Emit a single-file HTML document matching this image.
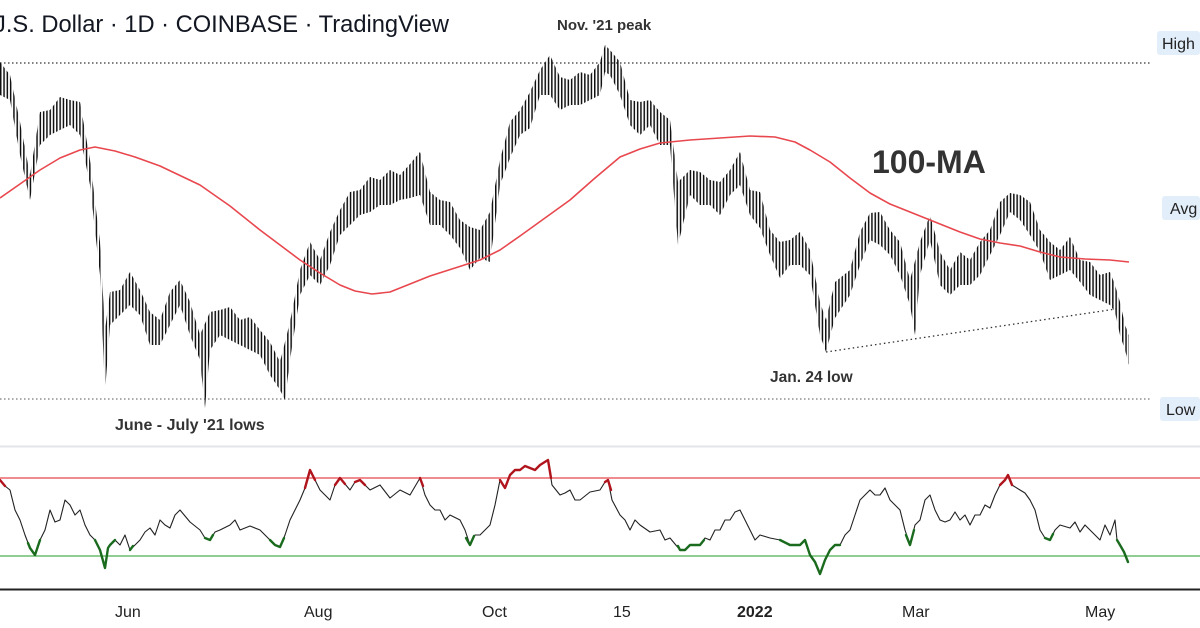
<!DOCTYPE html>
<html><head><meta charset="utf-8"><style>
html,body{margin:0;padding:0;background:#fff;}
svg{display:block;font-family:"Liberation Sans",sans-serif;}
</style></head><body>
<svg width="1200" height="628" viewBox="0 0 1200 628" xmlns="http://www.w3.org/2000/svg">
<defs>
<pattern id="vb" patternUnits="userSpaceOnUse" x="0" y="0" width="3.3" height="10">
<rect x="0" y="0" width="1.5" height="10" fill="#111"/>
</pattern>
</defs>
<rect width="1200" height="628" fill="#fff"/>
<text x="-6" y="32" font-size="23.7" fill="#131722">J.S. Dollar · 1D · COINBASE · TradingView</text>
<line x1="0" y1="63" x2="1150" y2="63" stroke="#333" stroke-width="1.2" stroke-dasharray="1.5,2.5"/>
<line x1="0" y1="399" x2="1150" y2="399" stroke="#555" stroke-width="1" stroke-dasharray="1.5,2.5"/>
<line x1="826" y1="352" x2="1116" y2="309" stroke="#333" stroke-width="1.3" stroke-dasharray="1.5,3"/>
<rect x="1157" y="31" width="43" height="24" rx="3" fill="#e3eefb"/>
<text x="1162" y="49" font-size="16" fill="#222">High</text>
<rect x="1162" y="196" width="38" height="24" rx="3" fill="#e3eefb"/>
<text x="1170" y="214" font-size="16" fill="#222">Avg</text>
<rect x="1160" y="397" width="40" height="24" rx="3" fill="#e3eefb"/>
<text x="1166" y="415" font-size="16" fill="#222">Low</text>

<polygon fill="url(#vb)" points="
0,62 10,75 20,122 30,175 40,112 50,110 60,97 70,100 80,102 90,160 100,242 105,330 110,292 120,290 130,272 140,290 150,312 160,320 170,292 180,280 190,302 200,335 210,312 220,310 230,307 240,320 250,317 260,330 270,342 280,362 290,322 300,270 310,242 320,260 330,232 340,210 350,192 360,190 370,177 380,180 390,170 400,175 410,164 420,152 430,192 440,200 450,202 460,220 470,227 480,230 490,212 500,160 510,122 520,110 530,92 540,70 550,55 560,77 570,80 580,72 590,75 600,62 605,45 610,50 620,62 630,100 640,102 650,100 660,112 670,120 678,182 690,170 700,172 710,180 720,182 730,170 740,152 750,190 760,192 770,230 780,242 790,240 800,232 810,250 820,302 826,320 835,282 850,270 860,232 870,213 880,212 890,230 900,242 910,280 920,242 930,215 940,252 950,270 960,252 970,260 980,242 990,230 1000,202 1010,193 1020,195 1030,202 1040,230 1050,242 1060,250 1070,237 1080,260 1090,262 1100,275 1110,272 1115,285 1120,302 1125,325 1129,335
1129,365 1125,350 1120,335 1115,312 1110,305 1100,300 1090,295 1080,282 1070,270 1060,275 1050,280 1040,252 1030,235 1020,220 1010,212 1000,235 990,255 980,275 970,285 960,285 950,295 940,285 930,240 920,275 915,335 910,305 900,275 890,255 880,245 870,240 860,265 850,295 835,318 826,352 820,335 810,275 800,265 790,265 780,278 770,255 760,228 750,215 740,185 730,195 720,215 710,205 700,205 690,195 678,245 670,145 660,145 650,125 640,135 630,125 620,95 610,75 605,72 600,95 590,100 580,105 570,105 560,110 550,95 540,95 530,128 520,135 510,158 500,185 490,262 480,258 470,270 460,248 450,235 440,225 430,225 420,195 410,198 400,200 390,205 380,205 370,212 360,215 350,225 340,235 330,265 320,285 310,275 300,295 290,360 285,400 280,390 270,375 260,355 250,350 240,345 230,340 220,335 210,350 205,408 200,360 190,335 180,305 170,325 160,345 150,345 140,315 130,305 120,315 110,325 105,392 100,275 90,185 80,135 70,125 60,130 50,135 40,145 30,200 20,155 10,100 0,95"/>

<polyline fill="none" stroke="#e8474e" stroke-width="1.6" stroke-linejoin="round" points="0,198 20,184 40,170 60,158 80,150 95,147 115,151 135,157 160,166 200,185 230,206 260,230 300,260 320,273 340,285 355,291 372,294 390,292 410,284 430,276 455,268 480,260 500,250 520,236 545,218 570,200 595,178 620,157 640,149 660,143 690,140 720,138 750,136 775,137 795,142 810,150 830,162 850,178 870,193 890,204 930,220 960,232 980,239 1000,243 1020,246 1040,252 1060,257 1085,259 1110,260 1129,262"/>

<text x="557" y="30" font-size="15" font-weight="bold" fill="#333">Nov. '21 peak</text>
<text x="115" y="430" font-size="16" font-weight="bold" fill="#333">June - July '21 lows</text>
<text x="770" y="382" font-size="15.5" font-weight="bold" fill="#333">Jan. 24 low</text>
<text x="872" y="173" font-size="32" font-weight="bold" fill="#333">100-MA</text>

<line x1="0" y1="446.5" x2="1200" y2="446.5" stroke="#e3e5ea" stroke-width="2"/>
<line x1="0" y1="478" x2="1200" y2="478" stroke="#e8474e" stroke-width="1.3"/>
<line x1="0" y1="556" x2="1200" y2="556" stroke="#4caf50" stroke-width="1.3"/>

<polyline fill="none" stroke="#222" stroke-width="1.1" stroke-linejoin="round" points="0,480 5,486 10,490 15,510 20,520 25,535 30,548 35,555 40,540 45,530 50,510 55,522 60,520 65,500 70,505 75,515 80,510 85,525 90,535 95,540 100,550 105,568 108,548 110,545 115,540 120,545 125,535 130,550 135,545 140,540 145,532 150,528 155,535 160,520 165,525 170,528 175,515 180,510 190,522 200,530 205,538 210,540 215,532 220,530 230,525 235,520 240,530 250,526 260,530 265,535 270,540 275,545 280,547 285,535 290,520 295,510 300,500 305,488 310,470 315,480 320,490 325,495 330,500 335,485 340,478 345,484 350,490 355,482 360,480 370,490 380,485 390,498 400,490 410,495 420,478 425,495 430,505 435,510 440,510 445,520 450,515 460,520 465,530 470,545 475,535 480,535 485,530 490,525 495,505 500,480 505,488 510,475 515,470 520,470 525,466 530,468 535,470 540,465 548,460 552,485 560,495 565,493 570,490 575,500 580,500 590,492 600,490 605,482 608,480 612,500 620,515 625,520 630,530 635,520 640,525 650,532 660,530 665,540 670,538 680,550 685,550 690,545 700,545 705,538 710,540 715,530 720,530 725,520 730,520 735,512 740,510 745,520 750,530 755,540 760,535 770,538 780,540 790,545 800,545 805,540 810,555 815,562 820,574 825,560 830,550 835,545 840,545 845,535 850,530 855,515 860,500 865,495 870,490 875,495 880,495 885,488 890,500 895,505 900,510 905,530 910,545 915,525 920,520 925,500 930,495 935,510 940,520 945,522 950,520 955,512 960,520 965,515 970,525 975,515 980,515 985,505 990,508 995,495 1000,485 1005,480 1008,475 1012,485 1020,490 1025,493 1030,500 1035,510 1040,530 1045,538 1050,540 1055,530 1060,525 1070,528 1075,522 1080,532 1085,525 1090,530 1095,535 1100,540 1105,525 1110,535 1115,520 1117,540 1120,545 1124,552 1128,562"/>
<g fill="none" stroke="#b0141c" stroke-width="2.4" stroke-linejoin="round" stroke-linecap="round">
<polyline points="0,480 5,486"/>
<polyline points="305,488 310,470 315,480"/>
<polyline points="335,485 340,478 345,484"/>
<polyline points="355,482 360,480 365,485"/>
<polyline points="420,478 423,486"/>
<polyline points="500,480 505,488 510,475 515,470 520,470 525,466 530,468 535,470 540,465 548,460 551,478"/>
<polyline points="605,482 608,480 611,490"/>
<polyline points="1000,485 1005,480 1008,475 1012,485"/>
</g>
<g fill="none" stroke="#1b6b1f" stroke-width="2.4" stroke-linejoin="round" stroke-linecap="round">
<polyline points="28,543 30,548 35,555 40,540"/>
<polyline points="95,540 100,550 105,568 108,548 110,545 115,540"/>
<polyline points="130,550 133,546"/>
<polyline points="205,538 210,540 213,535"/>
<polyline points="270,540 275,545 280,547 284,538"/>
<polyline points="466,538 470,545 474,536"/>
<polyline points="678,546 680,550 685,550 690,545 700,545 704,540"/>
<polyline points="780,540 790,545 800,545 805,540 810,555 815,562 820,574 825,560 830,550 835,545 840,545"/>
<polyline points="906,535 910,545 914,530"/>
<polyline points="1045,538 1050,540 1053,534"/>
<polyline points="1117,540 1120,545 1124,552 1128,562"/>
</g>
<line x1="0" y1="589.5" x2="1200" y2="589.5" stroke="#222" stroke-width="2"/>
<g font-size="16" fill="#222">
<text x="115" y="617">Jun</text>
<text x="304" y="617">Aug</text>
<text x="482" y="617">Oct</text>
<text x="613" y="617">15</text>
<text x="737" y="617" font-weight="bold">2022</text>
<text x="902" y="617">Mar</text>
<text x="1085" y="617">May</text>
</g>
</svg>
</body></html>
